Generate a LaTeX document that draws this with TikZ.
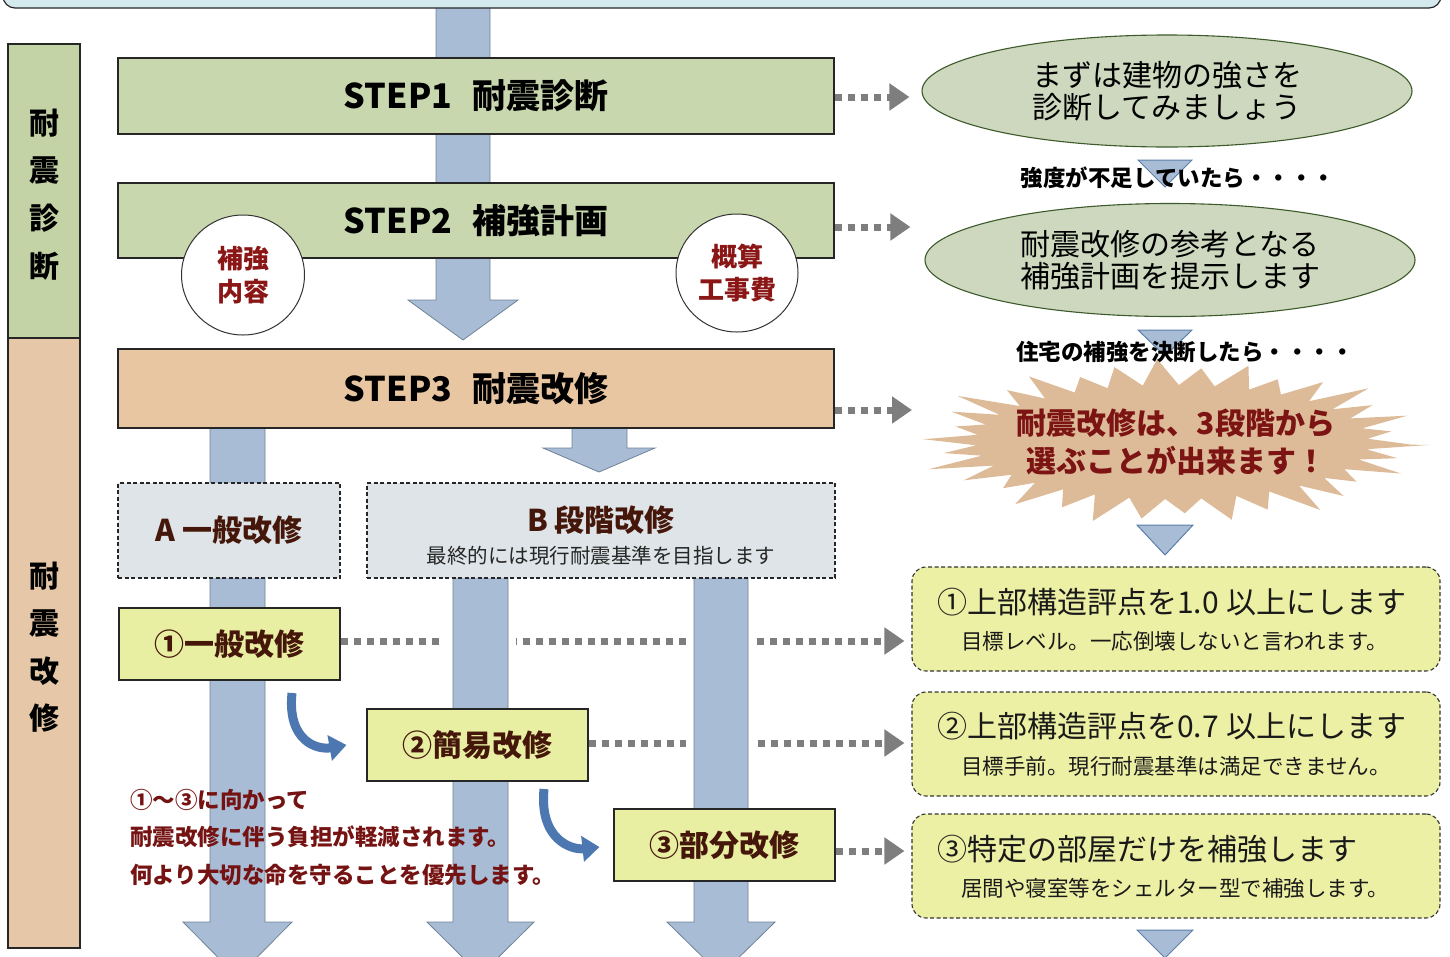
\documentclass[tikz,border=0pt]{standalone}
\usepackage{fontspec}
\setmainfont{Noto Sans CJK JP}
\usetikzlibrary{shapes.geometric,arrows.meta}
\pgfdeclarelayer{dots}\pgfdeclarelayer{bars}
\pgfsetlayers{dots,bars,main}
\definecolor{topcyan}{HTML}{D4E9EE}
\definecolor{stepgreen}{HTML}{C8D7AE}
\definecolor{steptan}{HTML}{E8C6A2}
\definecolor{colgreen}{HTML}{C4D3A6}
\definecolor{coltan}{HTML}{E6C8A8}
\definecolor{barblue}{HTML}{A9BCD6}
\definecolor{bardark}{HTML}{6F8296}
\definecolor{greybox}{HTML}{DEE4E7}
\definecolor{yelbox}{HTML}{E8EEA2}
\definecolor{ryel}{HTML}{ECF0A4}
\definecolor{ellgreen}{HTML}{CDD8BE}
\definecolor{ellline}{HTML}{3D5A2A}
\definecolor{startan}{HTML}{DEBB98}
\definecolor{darkred}{HTML}{8A1616}
\definecolor{brown}{HTML}{45170A}
\definecolor{curveblue}{HTML}{4C77B1}
\definecolor{dotgray}{HTML}{7E7E7E}
\definecolor{tritline}{HTML}{5B7FA8}
\newcommand\fsz[2]{\fontsize{#1}{#2}\selectfont}
\begin{document}
\begin{tikzpicture}[x=1pt,y=-1pt,
  box/.style={draw=black!85, line width=1.1pt, inner sep=0pt},
  stepbox/.style={box, fill=stepgreen, minimum width=716pt, font=\bfseries\fsz{34}{38}},
  circ/.style={ellipse, draw=black!80, line width=1pt, fill=white, inner sep=0pt, align=center, text=darkred, font=\bfseries\fsz{26}{33}},
  abox/.style={draw=black!85, line width=1.1pt, dash pattern=on 4pt off 2.5pt, fill=greybox, minimum height=95pt, inner sep=0pt},
  kbox/.style={box, fill=yelbox, minimum width=221pt, minimum height=72pt, text=brown, font=\bfseries\fsz{30}{33}},
  rbox/.style={draw=black!80, line width=1.1pt, dash pattern=on 4pt off 2.5pt, rounded corners=14pt, fill=ryel, minimum width=528pt, minimum height=104pt, inner sep=0pt},
  rtitle/.style={anchor=west, inner sep=0pt, text=black!90, font=\fsz{30}{34}},
  rsub/.style={anchor=west, inner sep=0pt, text=black!90, font=\fsz{21.5}{26}},
  ell/.style={ellipse, draw=ellline, line width=1.1pt, fill=ellgreen, inner sep=0pt, align=center, font=\fsz{30}{32}},
  bar/.style={fill=barblue, draw=bardark, line width=0.8pt},
  tri/.style={fill=barblue, draw=tritline, line width=1pt},
  dotarrow/.style={draw=dotgray, line width=7pt, dash pattern=on 7pt off 6pt, -{Triangle[length=20pt,width=26pt]}},
  curve/.style={draw=curveblue, line width=9pt, -{Triangle[length=17pt,width=25pt]}},
  note/.style={font=\bfseries\fsz{22.5}{26}, inner sep=0pt}
]
\useasboundingbox (0,0) rectangle (1450,956);
\clip (0,0) rectangle (1450,956);

% top banner
\draw[fill=topcyan, draw=black!85, line width=1.2pt, rounded corners=12pt] (3,-60) rectangle (1441,8);

% left column
\node[box, fill=colgreen, minimum width=72pt, minimum height=294pt] (L1) at (44,191) {};
\node[box, fill=coltan, minimum width=72pt, minimum height=610pt] (L2) at (44,643) {};
\node[align=center, font=\bfseries\fsz{30}{47.7}, inner sep=0pt] (L1t) at (44,194.5) {耐\\震\\診\\断};
\node[align=center, font=\bfseries\fsz{30}{47.3}, inner sep=0pt] (L2t) at (44,647) {耐\\震\\改\\修};

% steps
\node[stepbox, minimum height=76pt] (s1) at (476,96) {STEP1\hspace{20pt}耐震診断};
\node[stepbox, minimum height=75pt] (s2) at (476,220.5) {STEP2\hspace{20pt}補強計画};
\node[stepbox, fill=steptan, minimum height=79pt] (s3) at (476,388.5) {STEP3\hspace{20pt}耐震改修};

\node[circ, minimum width=123pt, minimum height=120pt] (c1) at (243,275) {補強\\内容};
\node[circ, minimum width=122pt, minimum height=118pt] (c2) at (737,273) {概算\\工事費};

% A / B
\node[abox, minimum width=222pt, text=brown, font=\bfseries\fsz{30}{34}] (A) at (229,530.5) {A 一般改修};
\node[abox, minimum width=468pt] (B) at (601,530.5) {};
\node[inner sep=0pt, text=brown, font=\bfseries\fsz{30}{34}] (Bt) at (601,520) {B 段階改修};
\node[inner sep=0pt, text=black!85, font=\fsz{20.5}{24}] (Bs) at (601,556) {最終的には現行耐震基準を目指します};

% options
\node[kbox] (k1) at (229.5,644) {①一般改修};
\node[kbox] (k2) at (477.5,745) {②簡易改修};
\node[kbox] (k3) at (724.5,845) {③部分改修};

% curved arrows
\coordinate (ca1) at (292,693);
\coordinate (ca2) at (544,789);
\draw[curve] (ca1) .. controls (287,742) and (318,750) .. ([xshift=-20pt]k2.west);
\draw[curve] (ca2) .. controls (539,840) and (572,850) .. ([xshift=-14pt,yshift=-2pt]k3.west);

% note text
\node[note, anchor=west, text=darkred!85!black] (n1) at (130,800) {①～③に向かって};
\node[note, anchor=west, text=darkred!85!black] (n2) at (130,837) {耐震改修に伴う負担が軽減されます。};
\node[note, anchor=west, text=darkred!85!black] (n3) at (130,875) {何より大切な命を守ることを優先します。};

% right side
\node[ell, minimum width=490pt, minimum height=112pt] (e1) at (1167,91) {まずは建物の強さを\\診断してみましょう};
\node[ell, minimum width=490pt, minimum height=113pt] (e2) at (1170,260) {耐震改修の参考となる\\補強計画を提示します};

\draw[tri] (1138,160) -- (1192,160) -- (1165,187) -- cycle;
\draw[tri] (1138,330) -- (1192,330) -- (1165,356) -- cycle;
\node[inner sep=0pt, font=\bfseries\fsz{22.5}{26}] (q1) at (1178,178) {強度が不足していたら・・・・};

% starburst
\fill[startan] plot[samples=69, domain=0:68] ({1172+((1-mod(round(\x),2))*258*(1-0.035*mod(round(\x/2)*3,5))+mod(round(\x),2)*196)*cos(\x*5.2941+2)}, {442+((1-mod(round(\x),2))*83*(1-0.035*mod(round(\x/2)*3,5))+mod(round(\x),2)*57)*sin(\x*5.2941+2)}) -- cycle;
\node[inner sep=0pt, font=\bfseries\fsz{22.5}{26}] (q2) at (1185,352) {住宅の補強を決断したら・・・・};
\node[inner sep=0pt, align=center, text=darkred!90!black, font=\bfseries\fsz{30}{38}] (st) at (1176,442) {耐震改修は、3段階から\\選ぶことが出来ます！};
\coordinate (stL) at (912,410);

\draw[tri] (1137,525) -- (1193,525) -- (1165,555) -- cycle;
\draw[tri] (1137,930) -- (1193,930) -- (1165,958) -- cycle;

\node[rbox] (r1) at (1176,619) {};
\node[rbox] (r2) at (1176,744) {};
\node[rbox] (r3) at (1176,866) {};
\node[rtitle] (r1t) at (937,602) {①上部構造評点を1.0\hspace{8pt}以上にします};
\node[rsub] (r1s) at (961,641) {目標レベル。一応倒壊しないと言われます。};
\node[rtitle] (r2t) at (937,726) {②上部構造評点を0.7\hspace{8pt}以上にします};
\node[rsub] (r2s) at (961,766) {目標手前。現行耐震基準は満足できません。};
\node[rtitle] (r3t) at (937,849) {③特定の部屋だけを補強します};
\node[rsub] (r3s) at (961,888) {居間や寝室等をシェルター型で補強します。};

% dotted arrows
\begin{pgfonlayer}{dots}
\draw[dotarrow] ([yshift=-1pt]s1.east) -- ([yshift=-1pt,xshift=-12pt]s1.east -| e1.west);
\draw[dotarrow] ([yshift=-6.5pt]s2.east) -- ([yshift=-6.5pt,xshift=-14pt]s2.east -| e2.west);
\draw[dotarrow] (s3.east |- stL) -- (stL);
\draw[dotarrow] ([yshift=3pt]k1.east) -- ([yshift=3pt,xshift=-7pt]k1.east -| r1.west);
\draw[dotarrow] ([yshift=2pt]k2.east) -- ([yshift=2pt,xshift=-7pt]k2.east -| r2.west);
\draw[dotarrow] ([yshift=-6pt]k3.east) -- ([yshift=-6pt,xshift=-7pt]k3.east -| r3.west);
\fill[white] (445,630) rectangle (516,652);
\fill[white] (686,630) rectangle (756,652);
\fill[white] (686,732) rectangle (756,754);
\end{pgfonlayer}

% bars
\begin{pgfonlayer}{bars}
\draw[bar] (436,-5) -- (436,300) -- (408,300) -- (463,340) -- (518,300) -- (490,300) -- (490,-5) -- cycle;
\draw[bar] (572,420) -- (572,448) -- (543,448) -- (599,472) -- (655,448) -- (627,448) -- (627,420) -- cycle;
\draw[bar] (210,420) -- (210,922) -- (183,922) -- (237.5,977) -- (292,922) -- (265,922) -- (265,420) -- cycle;
\draw[bar] (453,570) -- (453,922) -- (427,922) -- (480.5,975) -- (534,922) -- (508,922) -- (508,570) -- cycle;
\draw[bar] (694,570) -- (694,922) -- (667,922) -- (721,975) -- (775,922) -- (748,922) -- (748,570) -- cycle;
\end{pgfonlayer}
\end{tikzpicture}
\end{document}
